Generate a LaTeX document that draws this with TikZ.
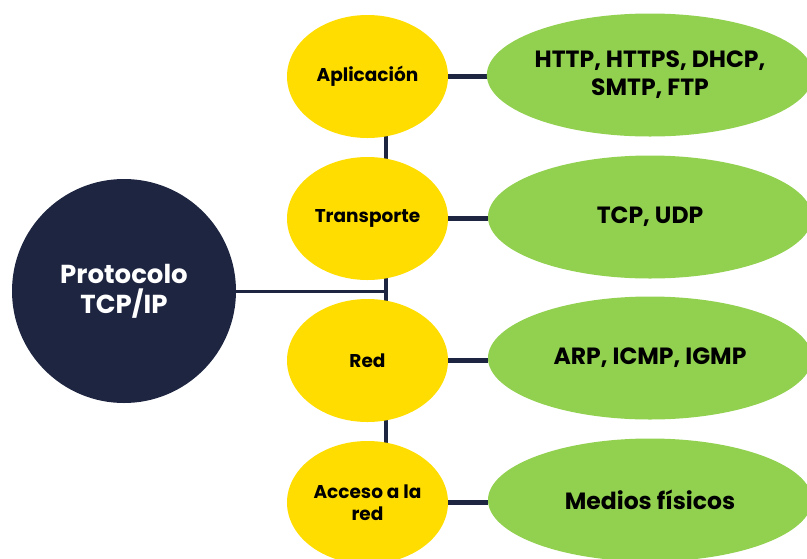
\documentclass[tikz,border=0pt]{standalone}
\usepackage{fontspec}
\setmainfont{Poppins}
\usetikzlibrary{shapes.geometric,backgrounds}
\definecolor{navy}{HTML}{1E2541}
\definecolor{ylw}{HTML}{FFDD00}
\definecolor{grn}{HTML}{92D050}
\tikzset{
  layer/.style={ellipse, fill=ylw, inner sep=0pt, minimum width=161pt, minimum height=123pt,
    align=center, font=\fontsize{18.5}{22.5}\selectfont\bfseries, text=black},
  proto/.style={ellipse, fill=grn, inner sep=0pt, minimum width=324pt, minimum height=123pt,
    align=center, font=\fontsize{23.5}{28}\selectfont\bfseries, text=black},
  root/.style={circle, fill=navy, inner sep=0pt, minimum size=224pt,
    align=center, font=\fontsize{26}{30}\selectfont\bfseries, text=white},
  link/.style={draw=navy, line width=4.5pt},
  thin link/.style={draw=navy, line width=3pt}
}
\begin{document}
\begin{tikzpicture}[x=1pt,y=-1pt]
\useasboundingbox (0,0) rectangle (807,558);
\clip (0,0) rectangle (807,558);
\node[root] (c) at (124,291) {Protocolo\\TCP/IP};
\node[layer] (ya) at (367.5,76.5) {Aplicación};
\node[layer] (yb) at (367.5,218.5) {Transporte};
\node[layer] (yc) at (367.5,360.5) {Red};
\node[layer] (yd) at (367.5,502.5) {Acceso a la\\red};
\node[proto] (ga) at (650,75) {HTTP, HTTPS, DHCP,\\SMTP, FTP};
\node[proto] (gb) at (650,217) {TCP, UDP};
\node[proto] (gc) at (650,358) {ARP, ICMP, IGMP};
\node[proto] (gd) at (650,500) {Medios físicos};
\coordinate (trunk) at (386,0);
\begin{scope}[on background layer]
  \draw[link] (ya.center -| trunk) -- (yd.center -| trunk);
  \draw[thin link] (c.east) -- (c.east -| trunk);
  \draw[link] (ya.east) -- (ya.east -| ga.west);
  \draw[link] (yb.east) -- (yb.east -| gb.west);
  \draw[link] (yc.east) -- (yc.east -| gc.west);
  \draw[link] (yd.east) -- (yd.east -| gd.west);
\end{scope}
\end{tikzpicture}
\end{document}
